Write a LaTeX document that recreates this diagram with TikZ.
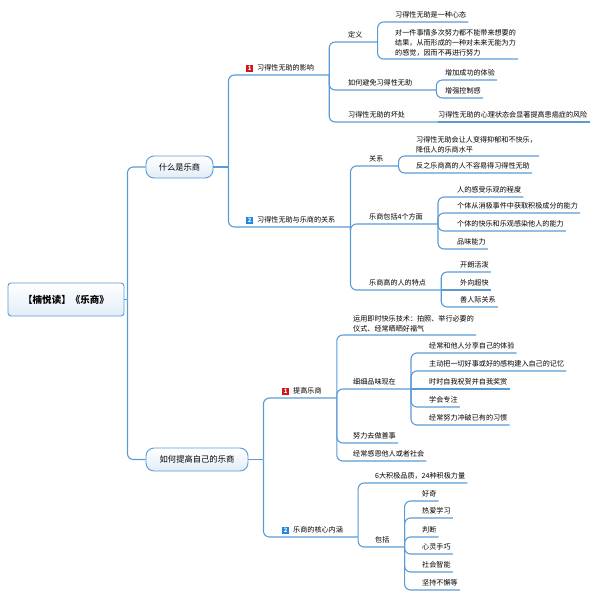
\documentclass[tikz,border=0pt]{standalone}
\usepackage{fontspec}
\setmainfont{Noto Sans CJK SC}
\definecolor{mapblue}{RGB}{91,155,213}
\definecolor{mapfill}{RGB}{226,237,248}
\definecolor{badgered}{RGB}{208,22,27}
\definecolor{badgeblue}{RGB}{30,136,229}
\newcommand{\numbadge}[2]{{\setlength{\fboxsep}{0.5pt}\colorbox{#1}{\makebox[6pt]{\rule[-0.3pt]{0pt}{6pt}\color{white}\fontsize{6}{6}\selectfont\bfseries #2}}}}
\tikzset{
    box/.style={draw=mapblue, line width=0.9pt, top color=white, bottom color=mapfill, rounded corners=8pt, inner sep=0pt, font=\fontsize{8.3}{10}\selectfont},
    rootbox/.style={box, rounded corners=3pt, font=\fontsize{9.5}{11}\selectfont\bfseries},
    leaf/.style={anchor=south west, inner xsep=2pt, inner ysep=2.5pt, text height=0.85em, text depth=0.15em, font=\fontsize{7.1}{10}\selectfont},
    note/.style={anchor=south west, inner xsep=2pt, inner ysep=2.5pt, align=left, font=\fontsize{7.1}{10}\selectfont},
    topic/.style={leaf, execute at end node={\hspace*{13pt}}},
    branch/.style={draw=mapblue, line width=1.1pt, rounded corners=6pt}
}
\begin{document}
\begin{tikzpicture}[x=1pt, y=-1pt]
    \useasboundingbox (0,0) rectangle (598,599);

    % Root and main topics
    \node [rootbox, minimum width=116pt, minimum height=33pt] (root) at (66,299.5) {【楠悦读】《乐商》};
    \node [box, minimum width=67pt, minimum height=22pt] (what) at (179.5,167) {什么是乐商};
    \node [box, minimum width=102pt, minimum height=23pt] (how) at (197,459.5) {如何提高自己的乐商};

    \coordinate (rootjoint) at ([xshift=3pt]root.east);
    \draw [branch] (root.east) -- (rootjoint);
    \draw [branch] (rootjoint) |- (what.west);
    \draw [branch] (rootjoint) |- (how.west);

    % What is it
    \node [topic] (infl) at (244,75) {\numbadge{badgered}{1}\hspace{4pt}习得性无助的影响};
    \node [topic] (rel) at (244,227) {\numbadge{badgeblue}{2}\hspace{4pt}习得性无助与乐商的关系};

    \coordinate (whatjoint) at ([xshift=15pt]what.east);
    \draw [branch] (what.east) -- (whatjoint);
    \draw [branch] (whatjoint) |- (infl.south east);
    \draw [branch] (whatjoint) |- (rel.south east);

    % Influence
    \node [topic] (defn) at (346,42) {定义};
    \node [topic, execute at end node={\hspace*{9pt}}] (avoid) at (346,90) {如何避免习得性无助};
    \node [topic, execute at end node={\hspace*{18pt}}] (harm) at (346,122) {习得性无助的坏处};
    \node [leaf] (defa) at (393,22) {习得性无助是一种心态};
    \node [note] (defb) at (393,59) {对一件事情多次努力都不能带来想要的\\结果，从而形成的一种对未来无能为力\\的感觉，因而不再进行努力};
    \node [leaf] (avoida) at (443,80) {增加成功的体验};
    \node [leaf] (avoidb) at (443,98) {增强控制感};
    \node [leaf] (harma) at (436,122) {习得性无助的心理状态会显著提高患癌症的风险};

    \foreach \child in {defn, avoid, harm}
        \draw [branch] (infl.south east) |- (\child.south east);
    \foreach \child in {defa, defb}
        \draw [branch] (defn.south east) |- (\child.south east);
    \foreach \child in {avoida, avoidb}
        \draw [branch] (avoid.south east) |- (\child.south east);
    \draw [branch] (harm.south east) -- (harma.south east);

    % Relation
    \node [topic] (rela) at (367,166) {关系};
    \node [topic] (aspects) at (367,224) {乐商包括4个方面};
    \node [topic] (traits) at (367,290) {乐商高的人的特点};
    \node [note] (relaa) at (414,156) {习得性无助会让人变得抑郁和不快乐，\\降低人的乐商水平};
    \node [leaf] (relab) at (414,173) {反之乐商高的人不容易得习得性无助};
    \node [leaf] (aspa) at (455,197) {人的感受乐观的程度};
    \node [leaf] (aspb) at (455,213) {个体从消极事件中获取积极成分的能力};
    \node [leaf] (aspc) at (455,231) {个体的快乐和乐观感染他人的能力};
    \node [leaf] (aspd) at (455,249) {品味能力};
    \node [leaf] (traita) at (458,272) {开朗活泼};
    \node [leaf] (traitb) at (458,290) {外向超快};
    \node [leaf] (traitc) at (458,307) {善人际关系};

    \foreach \child in {rela, aspects, traits}
        \draw [branch] (rel.south east) |- (\child.south east);
    \foreach \child in {relaa, relab}
        \draw [branch] (rela.south east) |- (\child.south east);
    \foreach \child in {aspa, aspb, aspc, aspd}
        \draw [branch] (aspects.south east) |- (\child.south east);
    \foreach \child in {traita, traitc}
        \draw [branch] (traits.south east) |- (\child.south east);
    \draw [branch] (traits.south east) -- (traitb.south east);

    % How to raise it
    \node [topic] (raise) at (280,398) {\numbadge{badgered}{1}\hspace{4pt}提高乐商};
    \node [topic] (core) at (280,537) {\numbadge{badgeblue}{2}\hspace{4pt}乐商的核心内涵};

    \coordinate (howjoint) at ([xshift=15pt]how.east);
    \draw [branch] (how.east) -- (howjoint);
    \draw [branch] (howjoint) |- (raise.south east);
    \draw [branch] (howjoint) |- (core.south east);

    % Raise
    \node [note] (instant) at (351,335) {运用即时快乐技术：拍照、举行必要的\\仪式、经常晒晒好福气};
    \node [topic] (savor) at (351,389) {细细品味现在};
    \node [leaf] (good) at (351,443) {努力去做善事};
    \node [leaf] (thank) at (351,461) {经常感恩他人或者社会};
    \node [leaf] (sava) at (427,353) {经常和他人分享自己的体验};
    \node [leaf] (savb) at (427,371) {主动把一切好事或好的感构建入自己的记忆};
    \node [leaf] (savc) at (427,389) {时时自我祝贺并自我奖赏};
    \node [leaf] (savd) at (427,407) {学会专注};
    \node [leaf] (save) at (427,425) {经常努力冲破已有的习惯};

    \foreach \child in {instant, savor, good, thank}
        \draw [branch] (raise.south east) |- (\child.south east);
    \foreach \child in {sava, savb, savd, save}
        \draw [branch] (savor.south east) |- (\child.south east);
    \draw [branch] (savor.south east) -- (savc.south east);

    % Core
    \node [leaf] (virtue) at (373,483) {6大积极品质，24种积极力量};
    \node [topic] (incl) at (373,547) {包括};
    \node [leaf] (incla) at (420,501) {好奇};
    \node [leaf] (inclb) at (420,518) {热爱学习};
    \node [leaf] (inclc) at (420,537) {判断};
    \node [leaf] (incld) at (420,554) {心灵手巧};
    \node [leaf] (incle) at (420,572) {社会智能};
    \node [leaf] (inclf) at (420,590) {坚持不懈等};

    \foreach \child in {virtue, incl}
        \draw [branch] (core.south east) |- (\child.south east);
    \foreach \child in {incla, inclb, inclc, incld, incle, inclf}
        \draw [branch] (incl.south east) |- (\child.south east);
\end{tikzpicture}
\end{document}
